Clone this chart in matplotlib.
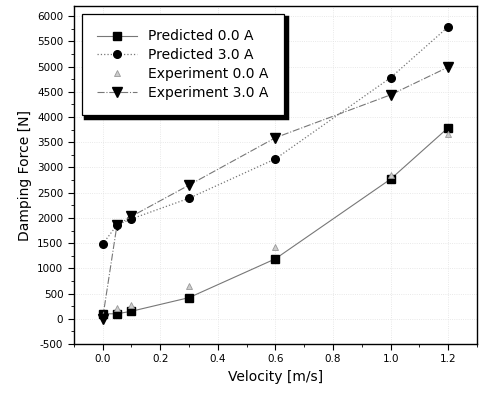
import matplotlib
matplotlib.use("Agg")
import matplotlib.pyplot as plt

plt.rcParams["axes.unicode_minus"] = False

# velocity [m/s]
vel = [0.0, 0.05, 0.1, 0.3, 0.6, 1.0, 1.2]
pred_0A = [100, 100, 150, 420, 1190, 2770, 3790]
pred_3A = [1480, 1860, 1980, 2390, 3170, 4780, 5790]
exp_0A = [50, 210, 280, 650, 1430, 2850, 3670]
exp_3A = [0, 1860, 2030, 2650, 3590, 4440, 4990]

fig = plt.figure(figsize=(4.79, 4.01), dpi=100)
ax = fig.add_axes([0.154, 0.142, 0.842, 0.843])

ax.plot(vel, pred_0A, "-", color="#777777", lw=0.8, marker="s", ms=5.5,
        mfc="black", mec="black", label="Predicted 0.0 A")
ax.plot(vel, pred_3A, ":", color="#777777", lw=0.9, marker="o", ms=5.5,
        mfc="black", mec="black", label="Predicted 3.0 A")
ax.plot(vel, exp_0A, linestyle="none", marker="^", ms=4.5,
        mfc="#cccccc", mec="#999999", mew=0.6, label="Experiment 0.0 A")
ax.plot(vel, exp_3A, "-.", color="#777777", lw=0.8, marker="v", ms=6.5,
        mfc="black", mec="black", label="Experiment 3.0 A")

ax.set_xlim(-0.1, 1.3)
ax.set_ylim(-500, 6200)
ax.set_xticks([0.0, 0.2, 0.4, 0.6, 0.8, 1.0, 1.2])
ax.set_xticks([-0.1, 0.1, 0.3, 0.5, 0.7, 0.9, 1.1, 1.3], minor=True)
ax.set_yticks(range(-500, 6001, 500))
ax.set_yticks(range(-250, 6200, 500), minor=True)
ax.tick_params(which="both", direction="out", labelsize=7.5, top=False, right=False)
ax.tick_params(which="major", length=4)
ax.tick_params(which="minor", length=2)
ax.set_xticklabels(["0.0", "0.2", "0.4", "0.6", "0.8", "1.0", "1.2"])

ax.grid(True, color="#e2e2e2", linestyle=":", lw=0.6)

ax.set_xlabel("Velocity [m/s]", fontsize=10)
ax.set_ylabel("Damping Force [N]", fontsize=10)

for s in ax.spines.values():
    s.set_linewidth(1.0)

leg = ax.legend(loc="upper left", bbox_to_anchor=(0.02, 0.976), borderaxespad=0,
                fontsize=10, handlelength=2.9, fancybox=False, edgecolor="black",
                framealpha=1,
                shadow={"color": "black", "alpha": 1, "linewidth": 2.5},
                borderpad=1.1, labelspacing=0.35)
leg.get_frame().set_linewidth(0.9)

fig.savefig("out.png", dpi=100)
